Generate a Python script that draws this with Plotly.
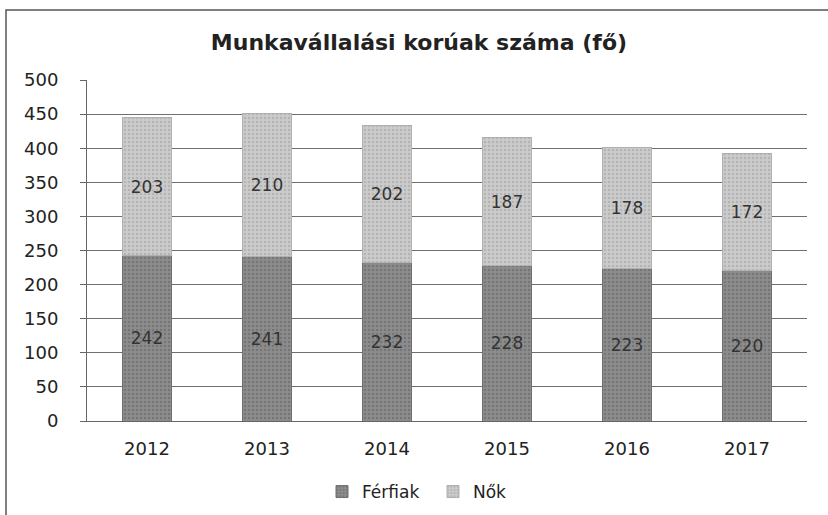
import plotly.graph_objects as go

years = ["2012", "2013", "2014", "2015", "2016", "2017"]
ferfiak = [242, 241, 232, 228, 223, 220]
nok = [203, 210, 202, 187, 178, 172]

font_family = "DejaVu Sans, Verdana, sans-serif"

fig = go.Figure()
fig.add_trace(go.Bar(
    x=years, y=ferfiak, name="Férfiak",
    marker=dict(color="#8c8c8c", line=dict(color="#6f6f6f", width=1),
                pattern=dict(shape=".", fgcolor="#5e5e5e", size=4, solidity=0.3)),
    text=[str(v) for v in ferfiak], textposition="inside", insidetextanchor="middle",
    textfont=dict(size=17, color="#333333", family=font_family),
))
fig.add_trace(go.Bar(
    x=years, y=nok, name="Nők",
    marker=dict(color="#cbcbcb", line=dict(color="#b0b0b0", width=1),
                pattern=dict(shape=".", fgcolor="#9a9a9a", size=4, solidity=0.3)),
    text=[str(v) for v in nok], textposition="inside", insidetextanchor="middle",
    textfont=dict(size=17, color="#333333", family=font_family),
))

fig.update_layout(
    barmode="stack",
    bargap=0.595,
    width=828, height=515,
    paper_bgcolor="white", plot_bgcolor="white",
    font=dict(family=font_family, color="#222222", size=16),
    title=dict(text="<b>Munkavállalási korúak száma (fő)</b>", x=0.506, xanchor="center",
               y=0.918, yanchor="middle", font=dict(size=22, color="#222222")),
    margin=dict(l=87, r=21, t=80, b=94),
    legend=dict(orientation="h", xref="container", x=322 / 828, xanchor="left",
                yref="container", y=1 - 492 / 515, yanchor="middle",
                font=dict(size=17), traceorder="normal", entrywidth=66),
    uniformtext=dict(mode="show", minsize=17),
    shapes=[dict(type="rect", xref="paper", yref="paper", x0=-(87 - 6) / 720, x1=1.1,
                 y0=-0.4, y1=1 + 70 / 341,
                 line=dict(color="#555555", width=1.5), fillcolor="rgba(0,0,0,0)", layer="below")],
)
fig.update_yaxes(range=[0, 500], dtick=50, showgrid=True, gridcolor="#6f6f6f", gridwidth=1,
                 showline=True, linecolor="#666666", ticks="outside", ticklen=6, tickcolor="#666666",
                 ticklabelstandoff=18, tickfont=dict(size=18), zeroline=False, automargin=False)
fig.update_xaxes(showline=True, linecolor="#666666", ticks="", tickfont=dict(size=18),
                 ticklabelstandoff=11, automargin=False)

fig.write_html("out.html", config={"displayModeBar": False},
               post_script="document.body.style.margin='0';")
